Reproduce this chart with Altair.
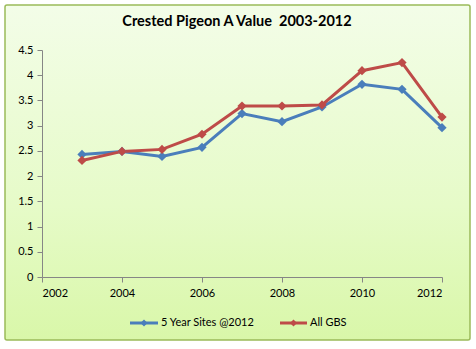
import altair as alt
import pandas as pd

years = [2003, 2004, 2005, 2006, 2007, 2008, 2009, 2010, 2011, 2012]
five_year = [2.43, 2.49, 2.39, 2.57, 3.24, 3.08, 3.37, 3.82, 3.72, 2.96]
all_gbs = [2.31, 2.49, 2.53, 2.83, 3.39, 3.39, 3.41, 4.09, 4.25, 3.17]
series_names = ["5 Year Sites @2012", "All GBS"]
series_colors = ["#4a7ebb", "#be4b48"]
title_text = "Crested Pigeon A Value\u00a0 2003-2012"
x_ticks = [2002, 2004, 2006, 2008, 2010, 2012]
y_ticks = [0.0, 0.5, 1.0, 1.5, 2.0, 2.5, 3.0, 3.5, 4.0, 4.5]

rows = []
for name, vals in zip(series_names, [five_year, all_gbs]):
    for yr, v in zip(years, vals):
        rows.append({"year": yr, "value": v, "series": name})
df = pd.DataFrame(rows)

FONT = "Lato"
W, H = 400, 227
PL, PT = 42, 50

color_scale = alt.Scale(domain=series_names, range=series_colors)

bg = alt.Chart(pd.DataFrame({"a": [0]})).mark_rect(
    color=alt.Gradient(
        gradient="linear",
        stops=[alt.GradientStop(color="#f3fde8", offset=0),
               alt.GradientStop(color="#e6fbc8", offset=0.6),
               alt.GradientStop(color="#d9f7a9", offset=1)],
        x1=0, x2=0, y1=0, y2=1),
    stroke="#9bbb59", strokeWidth=1.5, cornerRadius=2,
).encode(x=alt.value(5 - PL), x2=alt.value(470 - PL),
         y=alt.value(5 - PT), y2=alt.value(340 - PT))

x_axis = alt.Axis(values=x_ticks, format="d", title=None, grid=False,
                  domainColor="#868686", tickColor="#868686", tickSize=5,
                  labelFont=FONT, labelFontSize=11, labelColor="#000000",
                  labelPadding=5, labelOverlap=False, zindex=1)
y_axis = alt.Axis(values=y_ticks, format="~g", title=None, grid=False,
                  domainColor="#868686", tickColor="#868686", tickSize=5,
                  labelFont=FONT, labelFontSize=11, labelColor="#000000",
                  labelPadding=4, labelOverlap=False, zindex=1)
x_enc = alt.X("year:Q", scale=alt.Scale(domain=[2002, 2012], nice=False), axis=x_axis)
y_enc = alt.Y("value:Q", scale=alt.Scale(domain=[0, 4.5], nice=False), axis=y_axis)

base = alt.Chart(df)
lines = base.mark_line(strokeWidth=3).encode(
    x=x_enc, y=y_enc,
    color=alt.Color("series:N", scale=color_scale, legend=None),
    detail="series:N")
points = base.mark_point(shape="diamond", filled=True, size=85, opacity=1).encode(
    x=x_enc, y=y_enc,
    color=alt.Color("series:N", scale=color_scale, legend=None))

title = alt.Chart(pd.DataFrame({"t": [title_text]})).mark_text(
    font=FONT, fontSize=14.5, fontWeight="bold", color="#000000", align="center",
    baseline="middle").encode(text="t:N", x=alt.value(237 - PL), y=alt.value(22 - PT))

# legend
leg_df = pd.DataFrame({"series": series_names,
                       "lx1": [130 - PL, 280 - PL],
                       "lx2": [158 - PL, 307 - PL],
                       "tx": [161 - PL, 310 - PL]})
leg_y = 323 - PT
leg_layers = []
for i, name in enumerate(series_names):
    sub = leg_df[leg_df.series == name]
    r = leg_df.iloc[i]
    leg_layers.append(alt.Chart(sub).mark_rule(strokeWidth=3).encode(
        x=alt.value(float(r.lx1)), x2=alt.value(float(r.lx2)), y=alt.value(leg_y),
        color=alt.Color("series:N", scale=color_scale, legend=None)))
    leg_layers.append(alt.Chart(sub).mark_point(shape="diamond", filled=True, size=50, opacity=1).encode(
        x=alt.value(float((r.lx1 + r.lx2) / 2)), y=alt.value(leg_y),
        color=alt.Color("series:N", scale=color_scale, legend=None)))
    leg_layers.append(alt.Chart(sub).mark_text(
        font=FONT, fontSize=11, align="left", baseline="middle", color="#000000").encode(
        x=alt.value(float(r.tx)), y=alt.value(leg_y), text="series:N"))

chart = alt.layer(bg, lines, points, title, *leg_layers).properties(
    width=W, height=H,
    padding={"left": PL, "top": PT, "right": 476 - PL - W, "bottom": 349 - PT - H},
    autosize=alt.AutoSizeParams(type="none"),
).configure_view(stroke=None).configure(background="#ffffff")

chart.save("out.html", embed_options={"renderer": "svg", "actions": False})
